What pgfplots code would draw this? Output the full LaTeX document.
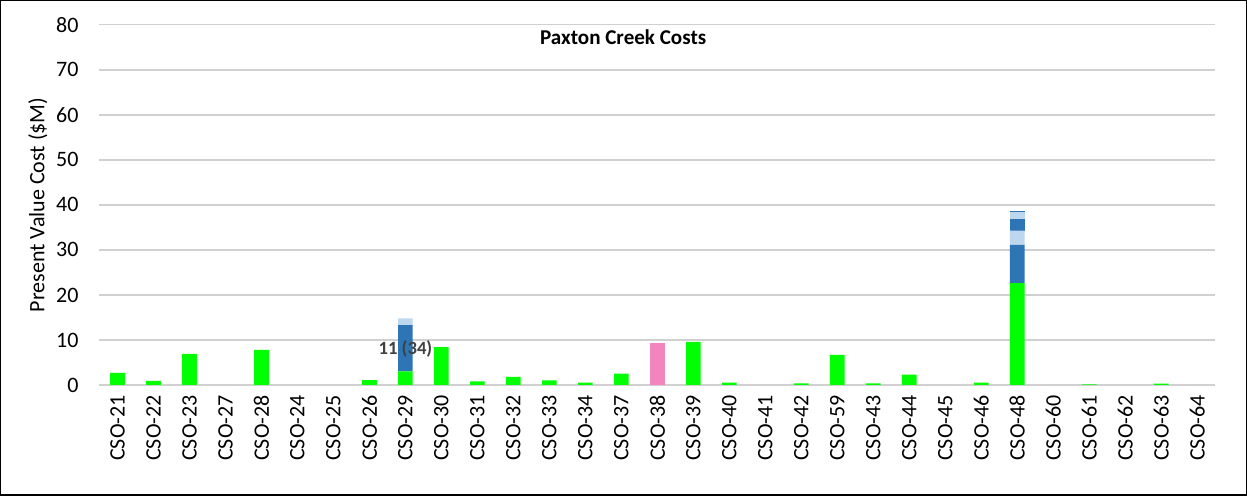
\documentclass[border=0pt]{standalone}
\usepackage{pgfplots}
\pgfplotsset{compat=1.18}
\usepackage{pgfplotstable}
\usepackage{fontspec}
\setmainfont{Carlito}
\definecolor{cgreen}{HTML}{00FF00}
\definecolor{cblue}{HTML}{2E75B6}
\definecolor{clight}{HTML}{BDD7EE}
\definecolor{cpink}{HTML}{F484BE}
\definecolor{cgrid}{HTML}{D0D0D0}
\definecolor{ctext}{HTML}{404040}

\pgfplotstableread{
x  g     b1    l1   b2   l2   d    p
0  2.7   0     0    0    0    0    0
1  0.9   0     0    0    0    0    0
2  6.9   0     0    0    0    0    0
3  0     0     0    0    0    0    0
4  7.8   0     0    0    0    0    0
5  0     0     0    0    0    0    0
6  0     0     0    0    0    0    0
7  1.1   0     0    0    0    0    0
8  3.0   10.3  1.5  0    0    0    0
9  8.4   0     0    0    0    0    0
10 0.8   0     0    0    0    0    0
11 1.8   0     0    0    0    0    0
12 1.0   0     0    0    0    0    0
13 0.5   0     0    0    0    0    0
14 2.5   0     0    0    0    0    0
15 0     0     0    0    0    0    9.3
16 9.6   0     0    0    0    0    0
17 0.5   0     0    0    0    0    0
18 0     0     0    0    0    0    0
19 0.35  0     0    0    0    0    0
20 6.7   0     0    0    0    0    0
21 0.35  0     0    0    0    0    0
22 2.3   0     0    0    0    0    0
23 0     0     0    0    0    0    0
24 0.5   0     0    0    0    0    0
25 22.6  8.5   3.2  2.6  1.6  0.2  0
26 0     0     0    0    0    0    0
27 0.12  0     0    0    0    0    0
28 0     0     0    0    0    0    0
29 0.3   0     0    0    0    0    0
30 0     0     0    0    0    0    0
}\datatable

\begin{document}
\begin{tikzpicture}
\fontsize{16.5}{19}\selectfont
\begin{axis}[
  scale only axis,
  width=836.25pt, height=270pt,
  ybar stacked, bar width=11pt,
  xmin=-0.5, xmax=30.5, ymin=0, ymax=80,
  xtick=data,
  xticklabels={CSO-21,CSO-22,CSO-23,CSO-27,CSO-28,CSO-24,CSO-25,CSO-26,CSO-29,CSO-30,CSO-31,CSO-32,CSO-33,CSO-34,CSO-37,CSO-38,CSO-39,CSO-40,CSO-41,CSO-42,CSO-59,CSO-43,CSO-44,CSO-45,CSO-46,CSO-48,CSO-60,CSO-61,CSO-62,CSO-63,CSO-64},
  ytick={0,10,...,80},
  ymajorgrids, major grid style={draw=cgrid, line width=1.1pt},
  axis line style={draw=none},
  tick style={draw=none},
  /pgf/number format/assume math mode=true,
  ticklabel style={font=\fontsize{16.5}{19}\selectfont, text=black},
  xticklabel style={rotate=90, anchor=east, xshift=-2pt},
  yticklabel style={anchor=east, xshift=-10pt},
  ylabel={Present Value Cost (\$M)},
  ylabel style={font=\fontsize{16.5}{19}\selectfont, at={(axis description cs:-0.0552,0.5)}, anchor=center},
  clip=false,
]
\addplot[fill=cgreen, draw=none] table[x=x, y=g] {\datatable};
\addplot[fill=cblue, draw=none] table[x=x, y=b1] {\datatable};
\addplot[fill=clight, draw=none] table[x=x, y=l1] {\datatable};
\addplot[fill=cblue, draw=none] table[x=x, y=b2] {\datatable};
\addplot[fill=clight, draw=none] table[x=x, y=l2] {\datatable};
\addplot[fill=cblue, draw=none] table[x=x, y=d] {\datatable};
\addplot[fill=cpink, draw=none] table[x=x, y=p] {\datatable};
\coordinate (ttl) at (axis cs:14.05,77.3);
\coordinate (lbl) at (axis cs:8,8);
\end{axis}
\node[fill=white, inner xsep=7pt, inner ysep=3pt, font=\fontsize{15.8}{18}\bfseries] at (ttl) {Paxton Creek Costs};
\node[text=ctext, font=\fontsize{14}{17}\bfseries] at (lbl) {11 (34)};
\draw[black, line width=1.1pt] ([shift={(-74pt,-82.5pt)}]current axis.south west) rectangle ([shift={(23.25pt,18pt)}]current axis.north east);
\end{tikzpicture}
\end{document}
